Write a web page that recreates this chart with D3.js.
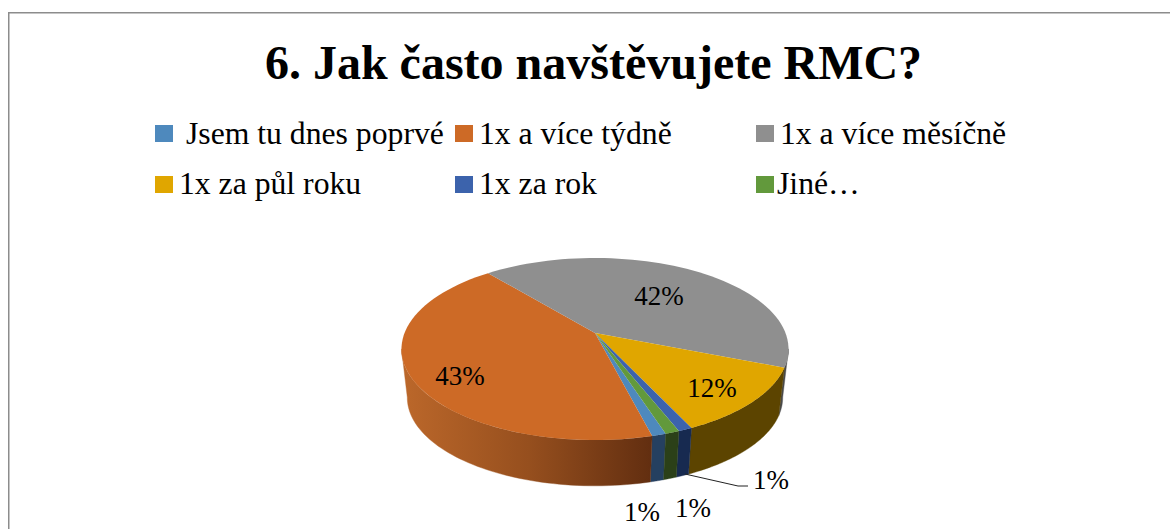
<!DOCTYPE html>
<html>
<head>
<meta charset="utf-8">
<script src="https://cdn.jsdelivr.net/npm/d3@7"></script>
<style>
  html, body { margin: 0; padding: 0; background: #fff; }
  svg { display: block; }
  text { font-family: "Liberation Serif", serif; fill: #000; }
</style>
</head>
<body>
<svg id="chart" width="1170" height="529"></svg>
<script>
// Data
var chartTitle = "6. Jak často navštěvujete RMC?";
var categories = ["Jsem tu dnes poprvé", "1x a více týdně", "1x a více měsíčně", "1x za půl roku", "1x za rok", "Jiné…"];
var values = [1, 43, 42, 12, 1, 1];
var topColors = ["#4e89bd", "#cd6a26", "#8f8f8f", "#e0a600", "#3c63ac", "#62993c"];
var wallColors = ["#254060", "url(#orangeWall)", "#4a4a4a", "#5c4400", "#172a50", "#2b4018"];

var svg = d3.select("#chart");

// Chart frame, the right side is cut off in the picture
svg.append("path")
  .attr("d", "M8.75,529V12.75H1170")
  .attr("fill", "none")
  .attr("stroke", "#8c8c8c")
  .attr("stroke-width", 1.5);

// Title
svg.append("text")
  .attr("x", 593.5)
  .attr("y", 79)
  .attr("text-anchor", "middle")
  .attr("font-size", 48)
  .attr("font-weight", "bold")
  .text(chartTitle);

// Legend, three columns by two rows
var legendX = [155, 455, 756];
var legendY = [125, 176];
var legendTextX = [186, 479, 780, 179, 479, 777];
var legendTextY = [144, 194];

var legend = svg.selectAll(".legend")
  .data(categories)
  .enter().append("g")
  .attr("class", "legend");

legend.append("rect")
  .attr("x", function(d, i) { return legendX[i % 3]; })
  .attr("y", function(d, i) { return legendY[Math.floor(i / 3)]; })
  .attr("width", 18)
  .attr("height", 17)
  .attr("fill", function(d, i) { return topColors[i]; });

legend.append("text")
  .attr("x", function(d, i) { return legendTextX[i]; })
  .attr("y", function(d, i) { return legendTextY[Math.floor(i / 3)]; })
  .attr("font-size", 31.7)
  .text(function(d) { return d; });

// Pie angles, first slice starts near the front
var pie = d3.pie().sort(null).startAngle(162 * Math.PI / 180).endAngle(522 * Math.PI / 180);
var arcs = pie(values);

// Tilted disc with perspective, hub sits above the middle of the ellipse
var hubX = 595, hubY = 333, radX = 190.5, radY = 88.2, persp = 0.176;
var depth = 49, bottomScale = 0.97;

function topPoint(a) {
  var u = Math.sin(a), t = -Math.cos(a), w = 1 - persp * t;
  return [hubX + radX * u / w, hubY + radY * t / w];
}
function bottomPoint(a) {
  var p = topPoint(a);
  return [hubX + (p[0] - hubX) * bottomScale, hubY + (p[1] - hubY) * bottomScale + depth];
}
function sampleAngles(a0, a1) {
  return d3.range(0, 61).map(function(i) { return a0 + (a1 - a0) * i / 60; });
}

var line = d3.line();

// Orange side shading
var grad = svg.append("defs").append("linearGradient")
  .attr("id", "orangeWall")
  .attr("gradientUnits", "userSpaceOnUse")
  .attr("x1", 405).attr("x2", 652).attr("y1", 0).attr("y2", 0);
grad.append("stop").attr("offset", "0%").attr("stop-color", "#bb672a");
grad.append("stop").attr("offset", "50%").attr("stop-color", "#964f1e");
grad.append("stop").attr("offset", "100%").attr("stop-color", "#622e10");

// Side walls, only the part that faces the viewer
var visFrom = 100 * Math.PI / 180, visTo = 260 * Math.PI / 180;
var twoPi = 2 * Math.PI;

arcs.forEach(function(d, i) {
  [0, twoPi, -twoPi].forEach(function(shift) {
    var a0 = Math.max(d.startAngle + shift, visFrom);
    var a1 = Math.min(d.endAngle + shift, visTo);
    if (a1 <= a0) return;
    var angles = sampleAngles(a0, a1);
    var pts = angles.map(topPoint).concat(angles.slice().reverse().map(bottomPoint));
    svg.append("path")
      .attr("d", line(pts) + "Z")
      .attr("fill", wallColors[i])
      .attr("stroke", wallColors[i])
      .attr("stroke-width", 0.4);
  });
});

// Top face
svg.selectAll(".slice")
  .data(arcs)
  .enter().append("path")
  .attr("class", "slice")
  .attr("d", function(d) {
    return line([[hubX, hubY]].concat(sampleAngles(d.startAngle, d.endAngle).map(topPoint))) + "Z";
  })
  .attr("fill", function(d, i) { return topColors[i]; });

// Data labels
var labelPos = [[642, 512], [460, 376], [659, 296], [712, 388], [693, 508], [771, 480]];

svg.selectAll(".pct")
  .data(values)
  .enter().append("text")
  .attr("class", "pct")
  .attr("x", function(d, i) { return labelPos[i][0]; })
  .attr("y", function(d, i) { return labelPos[i][1] + 9; })
  .attr("text-anchor", "middle")
  .attr("font-size", 27)
  .text(function(d) { return d + "%"; });

// Leader line for the Jiné label
svg.append("path")
  .attr("d", "M685,474L738,486H748")
  .attr("fill", "none")
  .attr("stroke", "#222")
  .attr("stroke-width", 1);
</script>
</body>
</html>
